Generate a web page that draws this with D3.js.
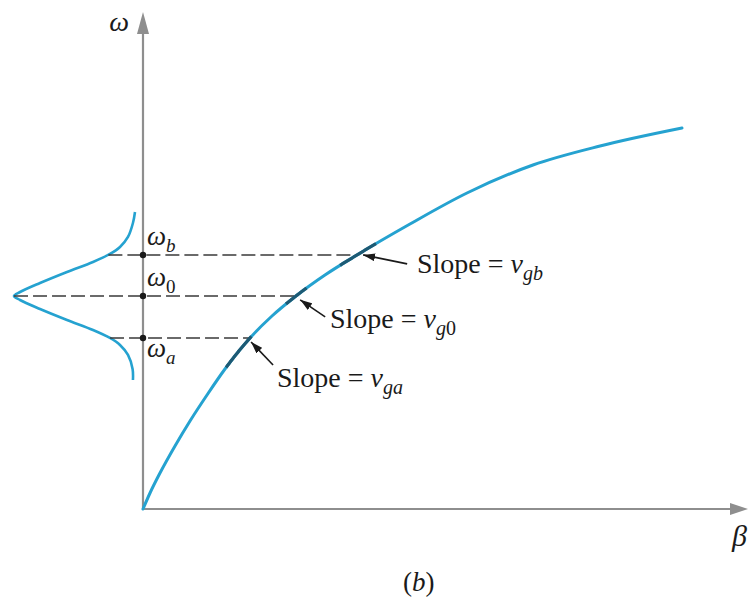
<!DOCTYPE html>
<html>
<head>
<meta charset="utf-8">
<script src="https://cdn.jsdelivr.net/npm/d3@7/dist/d3.min.js"></script>
<style>
  html, body { margin: 0; padding: 0; background: #fff; }
  svg { display: block; }
  #chart text, #chart tspan { font-family: "Liberation Serif" !important; }
</style>
</head>
<body>
<svg id="chart" width="748" height="605" font-family="Liberation Serif"></svg>
<script>
// Dispersion curve omega(beta), in axis units (0..100 on both axes)
const curveBeta  = [0, 1.16, 2.81, 5.29, 7.77, 10.58, 13.55, 17.69, 21.32, 25.29, 30.08, 35.37, 44.13, 53.55, 64.46, 75.54, 89.09];
const curveOmega = [0, 3.22, 7.24, 12.68, 17.71, 22.94, 28.17, 34.41, 38.83, 42.86, 47.08, 51.11, 57.34, 63.58, 69.22, 73.04, 76.66];

// Spectrum of the pulse drawn against the omega axis (amplitude 0..1)
const spectrumOmega = [59.76, 57.54, 54.73, 52.72, 51.31, 49.70, 47.69, 45.47, 43.66, 42.86,
                       42.05, 40.24, 38.03, 36.02, 34.41, 33.00, 30.99, 28.17, 25.96];
const spectrumAmp   = [0, 0.017, 0.058, 0.124, 0.207, 0.347, 0.562, 0.785, 0.950, 1.0,
                       0.950, 0.785, 0.562, 0.347, 0.207, 0.124, 0.058, 0.020, 0.017];

// Marked frequencies
const levelNames  = ["b", "0", "a"];
const levelOmega  = [51.11, 42.86, 34.41];
const slopeSubs   = ["gb", "g0", "ga"];

const svg = d3.select("#chart");

const x = d3.scaleLinear().domain([0, 100]).range([143, 748]);
const y = d3.scaleLinear().domain([0, 100]).range([509, 12]);
const amp = d3.scaleLinear().domain([0, 1]).range([135, 14]);

const axisColor = "#8e8e8e";
const blue = "#25a2d0";
const dark = "#1d5a74";
const ink = "#1a1a1a";

function txt(sel) {
  return sel.append("text")
    .attr("font-family", "Liberation Serif")
    .style("font-family", '"Liberation Serif"')
    .attr("fill", ink);
}

// Axes
const x0 = x(0), y0 = y(0);
svg.append("line").attr("x1", x0).attr("y1", y0).attr("x2", x.range()[1] - 12).attr("y2", y0)
  .attr("stroke", axisColor).attr("stroke-width", 2.2);
svg.append("line").attr("x1", x0).attr("y1", y0).attr("x2", x0).attr("y2", y.range()[1] + 16)
  .attr("stroke", axisColor).attr("stroke-width", 2.2);
const yTip = y.range()[1], xTip = x.range()[1];
svg.append("path").attr("d", `M${x0},${yTip} L${x0 - 6},${yTip + 22} L${x0 + 6},${yTip + 22} Z`).attr("fill", axisColor);
svg.append("path").attr("d", `M${xTip},${y0} L${xTip - 18},${y0 - 6} L${xTip - 18},${y0 + 6} Z`).attr("fill", axisColor);

// Axis titles
txt(svg).attr("x", x0 - 14).attr("y", yTip + 19).attr("text-anchor", "end")
  .attr("font-size", 28).attr("font-style", "italic").text("ω");
txt(svg).attr("x", xTip - 16).attr("y", y0 + 37)
  .attr("font-size", 30).attr("font-style", "italic").text("β");

// Dispersion curve
const curvePts = curveBeta.map((b, i) => [x(b), y(curveOmega[i])]);
const line = d3.line().curve(d3.curveMonotoneX);
const curvePath = svg.append("path").attr("d", line(curvePts))
  .attr("fill", "none").attr("stroke", blue).attr("stroke-width", 3).attr("stroke-linecap", "round");

// Spectrum
const specPts = spectrumOmega.map((w, i) => [amp(spectrumAmp[i]), y(w)]);
const specLine = d3.line().curve(d3.curveCatmullRom.alpha(0.5));
const specPath = svg.append("path").attr("d", specLine(specPts))
  .attr("fill", "none").attr("stroke", blue).attr("stroke-width", 2.6);

// Point on a path whose y is closest to the given value
function sampleAtY(pathNode, yy) {
  const L = pathNode.getTotalLength();
  let best = null;
  for (let s = 0; s <= L; s += 0.5) {
    const p = pathNode.getPointAtLength(s);
    const d = Math.abs(p.y - yy);
    if (!best || d < best.d) best = { d, s, x: p.x, y: p.y };
  }
  return best;
}

const cNode = curvePath.node();
const sNode = specPath.node();
const tangentSpan = [[-20, 22], [-13, 13], [-38, 2]];
const arrowOffset = [[6, 0, 50, 9], [4, 4, 29, 21], [1, 4, 23, 27]];

const defs = svg.append("defs");
defs.append("marker").attr("id", "ah").attr("viewBox", "0 0 12 8")
  .attr("refX", 12).attr("refY", 4).attr("markerWidth", 12).attr("markerHeight", 8)
  .attr("markerUnits", "userSpaceOnUse").attr("orient", "auto")
  .append("path").attr("d", "M0,0 L12,4 L0,8 Z").attr("fill", ink);

const labelPos = [[417, 273], [330, 328], [277, 387]];

levelOmega.forEach((w, i) => {
  const yy = y(w);
  const onCurve = sampleAtY(cNode, yy);
  const onSpec = sampleAtY(sNode, yy);

  // dashed level line
  svg.append("line").attr("x1", onSpec.x).attr("x2", onCurve.x).attr("y1", yy).attr("y2", yy)
    .attr("stroke", "#3a3a3a").attr("stroke-width", 1.5).attr("stroke-dasharray", "14,5");

  // tangent emphasis along the curve
  const [sa, sb] = tangentSpan[i];
  const seg = d3.range(onCurve.s + sa, onCurve.s + sb + 0.01, 1).map(s => {
    const p = cNode.getPointAtLength(s); return [p.x, p.y];
  });
  svg.append("path").attr("d", d3.line()(seg)).attr("fill", "none")
    .attr("stroke", dark).attr("stroke-width", 3.2);

  // dot on the omega axis
  svg.append("circle").attr("cx", x0).attr("cy", yy).attr("r", 3.2).attr("fill", ink);

  // omega label
  const t = txt(svg).attr("x", x0 + 4).attr("y", yy - 10 + (i === 2 ? 29 : 0))
    .attr("font-size", 27).attr("font-style", "italic");
  t.append("tspan").text("ω");
  t.append("tspan").attr("dy", 7).attr("font-size", 19).attr("font-style", levelNames[i] === "0" ? "normal" : "italic")
    .text(levelNames[i]);

  // arrow from label to the curve
  const [hx, hy, tx, ty] = arrowOffset[i];
  svg.append("line").attr("x1", onCurve.x + tx).attr("y1", onCurve.y + ty)
    .attr("x2", onCurve.x + hx).attr("y2", onCurve.y + hy)
    .attr("stroke", ink).attr("stroke-width", 1.6).attr("marker-end", "url(#ah)");

  // slope label
  const [lx, ly] = labelPos[i];
  const s = txt(svg).attr("x", lx).attr("y", ly).attr("font-size", 28);
  s.append("tspan").text("Slope = ");
  s.append("tspan").attr("font-style", "italic").text("v");
  const sub = s.append("tspan").attr("dy", 7).attr("font-size", 20);
  sub.append("tspan").attr("font-style", "italic").text(slopeSubs[i][0]);
  sub.append("tspan").attr("font-style", slopeSubs[i][1] === "0" ? "normal" : "italic").text(slopeSubs[i][1]);
});

// Panel caption
const cap = txt(svg).attr("x", 403).attr("y", 591).attr("font-size", 27);
cap.append("tspan").text("(");
cap.append("tspan").attr("font-style", "italic").text("b");
cap.append("tspan").text(")");
</script>
</body>
</html>
